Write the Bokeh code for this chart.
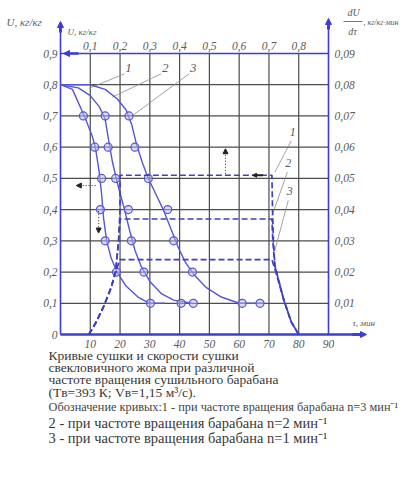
from bokeh.plotting import figure
from bokeh.models import Range1d, Label, Arrow, NormalHead
from bokeh.core.properties import value
from bokeh.embed import file_html
from bokeh.resources import INLINE

# ---------------- data ----------------
time_ticks = [10, 20, 30, 40, 50, 60, 70, 80, 90]
time_labels = ["10", "20", "30", "40", "50", "60", "70", "80", "90"]
u_ticks = [0, 0.1, 0.2, 0.3, 0.4, 0.5, 0.6, 0.7, 0.8, 0.9]
u_labels = ["0", "0,1", "0,2", "0,3", "0,4", "0,5", "0,6", "0,7", "0,8", "0,9"]
top_ticks = [0.1, 0.2, 0.3, 0.4, 0.5, 0.6, 0.7, 0.8]
top_labels = ["0,1", "0,2", "0,3", "0,4", "0,5", "0,6", "0,7", "0,8"]
rate_ticks = [0.01, 0.02, 0.03, 0.04, 0.05, 0.06, 0.07, 0.08, 0.09]
rate_labels = ["0,01", "0,02", "0,03", "0,04", "0,05", "0,06", "0,07", "0,08", "0,09"]

# drying curves U(t)
curve1_t = [0, 4, 8, 10.5, 11.7, 13, 13.8, 14.5, 15.5, 17, 19, 22, 26, 30, 35]
curve1_u = [0.80, 0.785, 0.70, 0.64, 0.60, 0.52, 0.45, 0.37, 0.30, 0.245, 0.20, 0.155, 0.12, 0.10, 0.10]
mark1_t = [7.7, 11.5, 13.8, 13.4, 15.0, 18.8, 30.2]
mark1_u = [0.7, 0.6, 0.5, 0.4, 0.3, 0.2, 0.1]

curve2_t = [0, 6, 10, 13, 15, 16.2, 17.5, 19.5, 21.5, 23.3, 25, 27, 30, 34, 38, 44]
curve2_u = [0.80, 0.79, 0.765, 0.73, 0.69, 0.62, 0.55, 0.47, 0.40, 0.33, 0.27, 0.22, 0.17, 0.13, 0.11, 0.10]
mark2_t = [15.0, 16.0, 18.5, 22.8, 23.8, 28.0, 40.5, 44.6]
mark2_u = [0.7, 0.6, 0.5, 0.4, 0.3, 0.2, 0.1, 0.1]

curve3_t = [0, 10, 15, 19, 22, 24, 25.5, 27.5, 29.5, 32, 34.5, 37, 39.5, 42, 45, 49, 54, 60, 68]
curve3_u = [0.80, 0.80, 0.785, 0.755, 0.72, 0.67, 0.61, 0.55, 0.50, 0.45, 0.40, 0.34, 0.28, 0.23, 0.19, 0.15, 0.12, 0.10, 0.10]
mark3_t = [23.0, 25.0, 29.5, 36.0, 38.0, 44.3, 61.0, 67.0]
mark3_u = [0.7, 0.6, 0.5, 0.4, 0.3, 0.2, 0.1, 0.1]

# drying-rate curves dU/dtau vs U (top / right axes)
rate1_u = [0.095, 0.12, 0.145, 0.17, 0.185, 0.195, 0.20, 0.20, 0.71, 0.712, 0.715, 0.72, 0.75, 0.775, 0.80]
rate1_r = [0.0, 0.004, 0.009, 0.015, 0.02, 0.03, 0.04, 0.051, 0.051, 0.04, 0.03, 0.022, 0.011, 0.004, 0.0]
rate2_u = [0.095, 0.12, 0.145, 0.17, 0.185, 0.195, 0.20, 0.71, 0.713, 0.72, 0.75, 0.775, 0.80]
rate2_r = [0.0, 0.004, 0.009, 0.015, 0.02, 0.03, 0.037, 0.037, 0.03, 0.022, 0.011, 0.004, 0.0]
rate3_u = [0.095, 0.12, 0.145, 0.17, 0.185, 0.20, 0.71, 0.72, 0.75, 0.775, 0.80]
rate3_r = [0.0, 0.004, 0.009, 0.015, 0.02, 0.024, 0.024, 0.021, 0.011, 0.004, 0.0]

# curve number labels and leader lines
num_text = ["1", "2", "3"]
num_t = [22.8, 35.2, 44.6]
num_u = [0.855, 0.855, 0.855]
lead_t0 = [21.5, 33.8, 43.2]
lead_u0 = [0.835, 0.835, 0.835]
lead_t1 = [10.0, 17.4, 24.0]
lead_u1 = [0.79, 0.76, 0.70]
rnum_u = [0.78, 0.765, 0.77]
rnum_r = [0.065, 0.055, 0.046]
rlead_u0 = [0.775, 0.762, 0.765]
rlead_r0 = [0.062, 0.052, 0.043]
rlead_u1 = [0.72, 0.71, 0.72]
rlead_r1 = [0.052, 0.038, 0.027]

caption = [
    "Кривые сушки  и скорости сушки",
    "свекловичного жома при различной",
    "частоте вращения  сушильного барабана",
    "(Tв=393 К; Vв=1,15 м³/с).",
]
legend_lines = [
    "Обозначение кривых:1 - при частоте вращения барабана n=3 мин⁻¹",
    "2 - при частоте вращения барабана n=2 мин⁻¹",
    "3 - при частоте вращения барабана n=1 мин⁻¹",
]

# ---------------- styling / geometry ----------------
BLUE = "#3d3dd8"
CURVE = "#5656d4"
GRID = "#4d4d4d"
TXT = "#5a5a5a"
SERIF = "Liberation Serif"
W, H = 406, 488
X0, Y0 = 60, 334            # pixel position of t=0, U=0
SX, SY = 268 / 90, 281 / 0.9  # pixels per unit


def tx(px):
    return (px - X0) / SX


def uy(py):
    return (Y0 - py) / SY


p = figure(width=W, height=H,
           x_range=Range1d(tx(0), tx(W)), y_range=Range1d(uy(H), uy(0)),
           output_backend="svg", toolbar_location=None,
           x_axis_location=None, y_axis_location=None,
           min_border_left=0, min_border_right=0, min_border_top=0, min_border_bottom=0)
p.extra_x_ranges = {"u": Range1d(tx(0) / 100, tx(W) / 100)}
p.extra_y_ranges = {"r": Range1d(uy(H) / 10, uy(0) / 10)}
p.grid.visible = False
p.outline_line_color = None
p.background_fill_color = "white"
p.border_fill_color = "white"

# grid
n_grid = len(time_ticks) - 1
p.segment(time_ticks[:-1], [0] * n_grid, time_ticks[:-1], [0.9] * n_grid,
          line_color=GRID, line_width=1.2)
p.segment([0] * (len(u_ticks) - 2), u_ticks[1:-1], [90] * (len(u_ticks) - 2), u_ticks[1:-1],
          line_color=GRID, line_width=1.2)

# frame / axes lines
p.line([0, 90], [0.9, 0.9], line_color=BLUE, line_width=1.6)
p.line([0, 0], [0, uy(26)], line_color=BLUE, line_width=1.6)
p.line([90, 90], [0, uy(23)], line_color=BLUE, line_width=1.6)
p.line([0, tx(360)], [0, 0], line_color=BLUE, line_width=2.5)

# tick labels
tick_font = dict(text_font=value(SERIF), text_font_style="italic",
                 text_font_size="11.5px", text_color=TXT)
p.text(x=[tx(57)] * len(u_ticks), y=u_ticks, text=u_labels, text_align="right",
       text_baseline="middle", **tick_font)
p.text(x=time_ticks, y=[uy(343)] * len(time_ticks), text=time_labels, text_align="center",
       text_baseline="middle", **tick_font)
p.text(x=top_ticks, y=[uy(45)] * len(top_ticks), text=top_labels, text_align="center",
       text_baseline="middle", x_range_name="u", **tick_font)
p.text(x=[tx(334) / 100] * len(rate_ticks), y=rate_ticks, text=rate_labels, text_align="left",
       text_baseline="middle", x_range_name="u", y_range_name="r", **tick_font)

# leader lines
p.segment(lead_t0, lead_u0, lead_t1, lead_u1, line_color="#8c8c8c", line_width=0.8)
p.segment(rlead_u0, rlead_r0, rlead_u1, rlead_r1, line_color="#8c8c8c", line_width=0.8,
          x_range_name="u", y_range_name="r")

# drying curves
for ct, cu, mt, mu in ((curve1_t, curve1_u, mark1_t, mark1_u),
                       (curve2_t, curve2_u, mark2_t, mark2_u),
                       (curve3_t, curve3_u, mark3_t, mark3_u)):
    p.line(ct, cu, line_color=CURVE, line_width=1.4)
    p.scatter(mt, mu, marker="circle", size=8, line_color=CURVE, line_width=1.2,
              fill_color="#b8b8ee", fill_alpha=0.5)

# drying-rate curves
for ru, rr in ((rate1_u, rate1_r), (rate2_u, rate2_r), (rate3_u, rate3_r)):
    p.line(ru, rr, line_color="#3f3fc4", line_width=1.7, line_dash="6 3",
           x_range_name="u", y_range_name="r")

# curve numbers
for txt, t, u in zip(num_text, num_t, num_u):
    p.add_layout(Label(x=t, y=u, text=txt, text_font=SERIF, text_font_style="italic",
                       text_font_size="13px", text_color=TXT, text_align="center",
                       text_baseline="middle"))
for txt, u, r in zip(num_text, rnum_u, rnum_r):
    p.add_layout(Label(x=u, y=r, x_range_name="u", y_range_name="r", text=txt,
                       text_font=SERIF, text_font_style="italic", text_font_size="12px",
                       text_color=TXT, text_align="center", text_baseline="middle"))


# arrows
def arrow(x0, y0, x1, y1, color=BLUE, width=1.6, size=7, dash="solid", **kw):
    p.add_layout(Arrow(x_start=x0, y_start=y0, x_end=x1, y_end=y1, line_color=color,
                       line_width=width, line_dash=dash,
                       end=NormalHead(size=size, fill_color=color, line_color=color), **kw))


arrow(0, uy(32), 0, uy(21), width=3, size=6)
arrow(90, uy(29), 90, uy(18), width=3, size=6)
arrow(tx(352), 0, tx(366), 0, width=3, size=6)
arrow(tx(78), 0.9, tx(63), 0.9, width=2.5, size=6)

# reading arrows
arrow(55.4, 0.515, 55.4, 0.595, color="#222222", width=1, size=5, dash="1 2")
arrow(11.8, 0.477, 5.3, 0.477, color="#222222", width=1, size=5, dash="1 2")
arrow(12.8, 0.395, 12.8, 0.325, color="#222222", width=1, size=5, dash="1 2")
arrow(0.68, 0.051, 0.645, 0.051, color="#222222", width=2, size=4,
      x_range_name="u", y_range_name="r")


# axis titles and caption
def lab(px, py, text, size="11px", style="italic", color=TXT, align="left"):
    p.add_layout(Label(x=tx(px), y=uy(py), text=text, text_font=SERIF,
                       text_font_style=style, text_font_size=size, text_color=color,
                       text_align=align, text_baseline="middle"))


lab(6, 21, "U, кг/кг", size="11px")
lab(67, 31, "U, кг/кг", size="9px")
lab(353, 12, "dU", size="10px", align="center")
lab(352, 31, "dτ", size="10px", align="center")
p.add_layout(Arrow(x_start=tx(343), y_start=uy(21), x_end=tx(362), y_end=uy(21),
                   line_color=TXT, line_width=0.8, end=None))
lab(363, 22, ", кг/кг·мин", size="8px")
lab(352, 322, "τ, мин", size="9px")

cap_y = [355, 367, 379, 392]
for y, t in zip(cap_y, caption):
    lab(48, y, t, size="13.5px", style="normal", color="#383838")
lab(48, 406, legend_lines[0], size="12.3px", style="normal", color="#444444")
lab(48, 422, legend_lines[1], size="14.5px", style="normal", color="#383838")
lab(48, 437, legend_lines[2], size="14.5px", style="normal", color="#383838")

open("out.html", "w").write(file_html(p, INLINE))
